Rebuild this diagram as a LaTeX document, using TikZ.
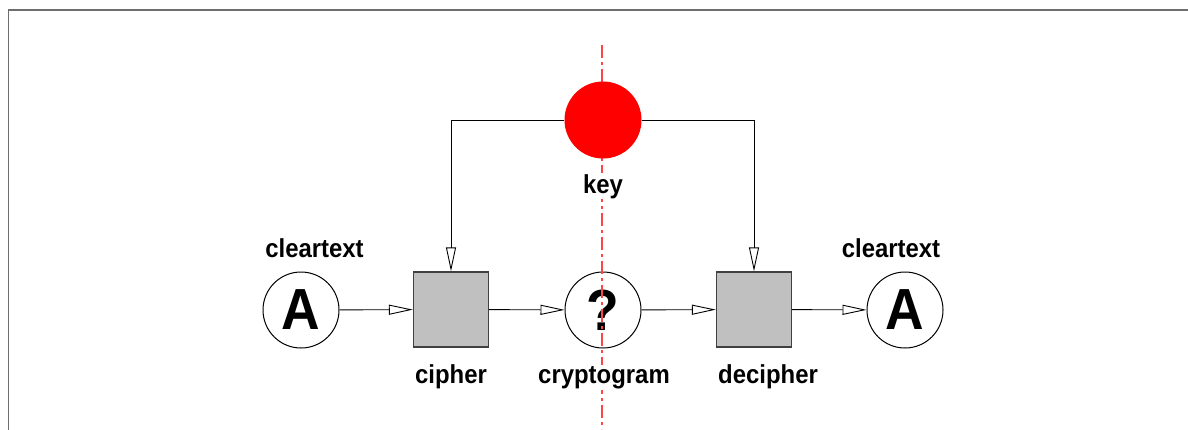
\documentclass[tikz,border=0pt]{standalone}
\usepackage{fontspec}
\usetikzlibrary{arrows.meta}
\newfontfamily\labfont{Liberation Sans}[FakeStretch=0.92]
\definecolor{boxgray}{RGB}{192,192,192}
\definecolor{framegray}{RGB}{110,110,110}
\definecolor{axisred}{RGB}{255,70,70}
\begin{document}
\begin{tikzpicture}[x=1pt,y=-1pt,
  lab/.style={font=\labfont\bfseries\fontsize{26}{30}\selectfont, anchor=base, inner sep=1pt, fill=white},
  circ/.style={circle, draw=black, line width=1pt, fill=white, minimum size=76pt, inner sep=0pt, font=\labfont\bfseries\fontsize{58}{60}\selectfont},
  boxnode/.style={rectangle, draw=black!75, line width=1.3pt, fill=boxgray, minimum size=75pt, inner sep=0pt},
  conn/.style={line width=0.9pt, -{Triangle[open, length=24pt, width=10pt, line width=0.9pt]}}
]
\useasboundingbox (0,0) rectangle (1188,429);
\fill[white] (0,0) rectangle (1188,429);
\draw[framegray, line width=1.8pt] (8.5,440) -- (8.5,10) -- (1200,10);

% nodes
\node[circ] (a1) at (301,310) {A};
\node[boxnode] (ciph) at (451,309.5) {};
\node[circ] (crypt) at (603,310) {\raisebox{0pt}{?}};
\node[boxnode] (deciph) at (754,309.5) {};
\node[circ] (a2) at (905,310) {A};

% axis
\draw[axisred, line width=1.2pt, dash pattern=on 13pt off 4pt on 3pt off 4pt] (602,45) -- (602,429);

% key
\node[circle, fill=red, minimum size=77pt, inner sep=0pt] (key) at (603,120) {};

% labels
\node[lab] (lc1) at (314.5,257) {cleartext};
\node[lab] (lc2) at (891,257) {cleartext};
\node[lab] (lkey) at (603,193) {key};
\node[lab] (lciph) at (451,383) {cipher};
\node[lab] (lcrypt) at (604,383) {cryptogram};
\node[lab] (ldeciph) at (768,383) {decipher};

% connectors
\draw[conn] (key.west) -| (ciph.north);
\draw[conn] (key.east) -| (deciph.north);
\draw[conn] (a1) -- (ciph);
\draw[conn] (ciph) -- (crypt);
\draw[conn] (crypt) -- (deciph);
\draw[conn] (deciph) -- (a2);
\end{tikzpicture}
\end{document}
